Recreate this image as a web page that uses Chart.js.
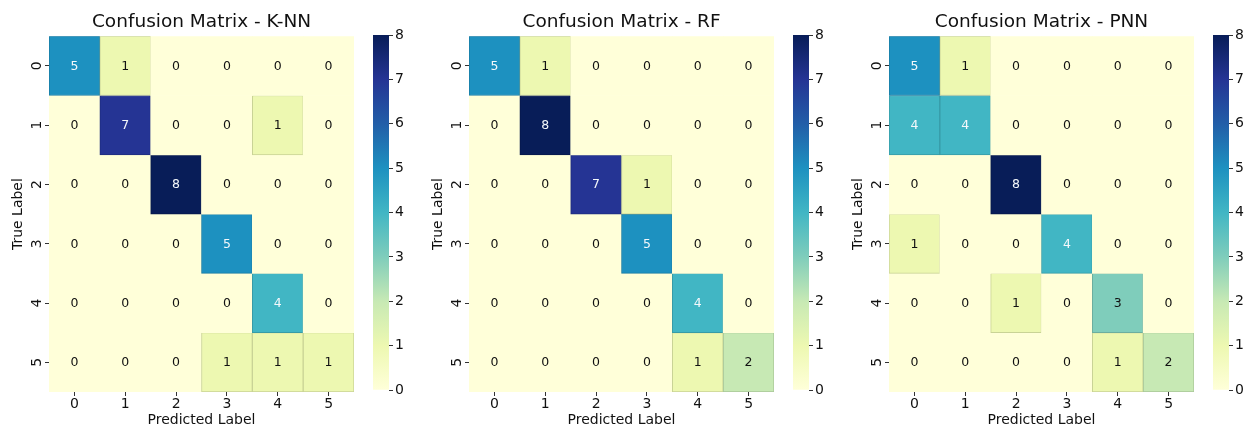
<!DOCTYPE html>
<html>
<head>
<meta charset="utf-8">
<script src="https://cdn.jsdelivr.net/npm/chart.js@4.4.1/dist/chart.umd.min.js"></script>
<style>
  html, body { margin: 0; padding: 0; background: #fff; }
  #wrap { position: relative; width: 1244px; height: 430px; overflow: hidden; }
  canvas { position: absolute; top: 0; }
</style>
</head>
<body>
<div id="wrap">
  <canvas id="hm0" width="356" height="430" style="left:0px"></canvas>
  <canvas id="cb0" width="60" height="430" style="left:360px"></canvas>
  <canvas id="hm1" width="356" height="430" style="left:420px"></canvas>
  <canvas id="cb1" width="60" height="430" style="left:780px"></canvas>
  <canvas id="hm2" width="356" height="430" style="left:840px"></canvas>
  <canvas id="cb2" width="60" height="430" style="left:1200px"></canvas>
</div>
<script>
// etiquetas de las clases
const predLabels = ['0', '1', '2', '3', '4', '5'];
const trueLabels = ['0', '1', '2', '3', '4', '5'];

// matrices de confusión (filas = etiqueta real)
const knnMatrix = [
  [5, 1, 0, 0, 0, 0],
  [0, 7, 0, 0, 1, 0],
  [0, 0, 8, 0, 0, 0],
  [0, 0, 0, 5, 0, 0],
  [0, 0, 0, 0, 4, 0],
  [0, 0, 0, 1, 1, 1]
];
const rfMatrix = [
  [5, 1, 0, 0, 0, 0],
  [0, 8, 0, 0, 0, 0],
  [0, 0, 7, 1, 0, 0],
  [0, 0, 0, 5, 0, 0],
  [0, 0, 0, 0, 4, 0],
  [0, 0, 0, 0, 1, 2]
];
const pnnMatrix = [
  [5, 1, 0, 0, 0, 0],
  [4, 4, 0, 0, 0, 0],
  [0, 0, 8, 0, 0, 0],
  [1, 0, 0, 4, 0, 0],
  [0, 0, 1, 0, 3, 0],
  [0, 0, 0, 0, 1, 2]
];
const titles = ['Confusion Matrix - K-NN', 'Confusion Matrix - RF', 'Confusion Matrix - PNN'];
const cbarTicks = [0, 1, 2, 3, 4, 5, 6, 7, 8];

const FONT = "'DejaVu Sans', sans-serif";
const TXT = '#111';

// paleta YlGnBu
const ylgnbu = ['#ffffd9', '#edf8b1', '#c7e9b4', '#7fcdbb', '#41b6c4', '#1d91c0', '#225ea8', '#253494', '#081d58'];

const hexRgb = (h) => [parseInt(h.slice(1, 3), 16), parseInt(h.slice(3, 5), 16), parseInt(h.slice(5, 7), 16)];

const cmap = (t, dark) => {
  t = Math.max(0, Math.min(1, t));
  const p = t * (ylgnbu.length - 1);
  const i = Math.min(Math.floor(p), ylgnbu.length - 2);
  const f = p - i;
  const a = hexRgb(ylgnbu[i]), b = hexRgb(ylgnbu[i + 1]);
  const k = dark || 1;
  const c = a.map((v, j) => Math.round((v + (b[j] - v) * f) * k));
  return `rgb(${c[0]}, ${c[1]}, ${c[2]})`;
};

const vmax = Math.max(...[knnMatrix, rfMatrix, pnnMatrix].flat(2));

const tickGrid = { drawOnChartArea: false, drawTicks: true, tickLength: 4, color: '#333' };

// se crea el mapa de calor con barras flotantes (una por celda)
const heatmap = (id, title, matrix) => {
  const datasets = matrix.map((row, r) => ({
    data: row.map(() => [r - 0.5, r + 0.5]),
    backgroundColor: row.map((v) => cmap(v / vmax)),
    borderColor: row.map((v) => v > 0 ? cmap(v / vmax, 0.85) : cmap(v / vmax)),
    borderWidth: row.map((v) => v > 0 ? 1 : 0),
    borderSkipped: false,
    barPercentage: 1,
    categoryPercentage: 1,
  }));

  const cellText = {
    id: 'cellText',
    afterDatasetsDraw(chart) {
      const { ctx, scales: { x, y } } = chart;
      ctx.save();
      ctx.font = `12.5px ${FONT}`;
      ctx.textAlign = 'center';
      ctx.textBaseline = 'middle';
      matrix.forEach((row, r) => {
        row.forEach((v, c) => {
          ctx.fillStyle = v / vmax >= 0.5 ? '#f4f8fb' : TXT;
          ctx.fillText(String(v), x.getPixelForValue(c), y.getPixelForValue(r) + 0.5);
        });
      });
      ctx.restore();
    }
  };

  new Chart(document.getElementById(id), {
    type: 'bar',
    data: { labels: predLabels, datasets },
    plugins: [cellText],
    options: {
      responsive: false,
      animation: false,
      layout: { padding: { right: 2 } },
      plugins: {
        legend: { display: false },
        tooltip: { enabled: false },
        title: {
          display: true,
          text: title,
          fullSize: false,
          color: TXT,
          font: { family: FONT, size: 18.5, weight: 'normal' },
          padding: { top: 11, bottom: 3 },
        },
      },
      scales: {
        x: {
          type: 'category',
          stacked: true,
          offset: true,
          grid: { ...tickGrid, offset: false },
          border: { display: false },
          ticks: { color: TXT, font: { family: FONT, size: 14 }, padding: 0 },
          title: {
            display: true, text: 'Predicted Label', color: TXT,
            font: { family: FONT, size: 14 }, padding: { top: 0, bottom: 1 },
          },
          afterFit: (s) => { s.height = 38; },
        },
        y: {
          type: 'linear',
          min: -0.5,
          max: trueLabels.length - 0.5,
          reverse: true,
          stacked: false,
          afterBuildTicks: (s) => { s.ticks = trueLabels.map((_, i) => ({ value: i })); },
          grid: tickGrid,
          border: { display: false },
          ticks: {
            callback: (v) => trueLabels[v],
            color: TXT,
            font: { family: FONT, size: 14 },
            minRotation: 90,
            maxRotation: 90,
            crossAlign: 'center',
            padding: 3,
          },
          title: {
            display: true, text: 'True Label', color: TXT,
            font: { family: FONT, size: 14 }, padding: { top: 10, bottom: 0 },
          },
          afterFit: (s) => { s.width = 49; },
        },
      },
    },
  });
};

// barra de colores al lado de cada matriz
const colorbar = (id) => {
  new Chart(document.getElementById(id), {
    type: 'bar',
    data: {
      labels: [''],
      datasets: [{
        data: [[cbarTicks[0], cbarTicks[cbarTicks.length - 1]]],
        backgroundColor: (c) => {
          const area = c.chart.chartArea;
          if (!area) return ylgnbu[0];
          const g = c.chart.ctx.createLinearGradient(0, area.bottom, 0, area.top);
          ylgnbu.forEach((col, i) => g.addColorStop(i / (ylgnbu.length - 1), col));
          return g;
        },
        borderWidth: 0,
        barPercentage: 1,
        categoryPercentage: 1,
      }],
    },
    options: {
      responsive: false,
      animation: false,
      layout: { padding: { left: 13, top: 35, bottom: 40 } },
      plugins: { legend: { display: false }, tooltip: { enabled: false } },
      scales: {
        x: { display: false },
        y: {
          position: 'right',
          min: cbarTicks[0],
          max: cbarTicks[cbarTicks.length - 1],
          afterBuildTicks: (s) => { s.ticks = cbarTicks.map((v) => ({ value: v })); },
          grid: tickGrid,
          border: { display: false },
          ticks: { color: TXT, font: { family: FONT, size: 14 }, padding: 2 },
          afterFit: (s) => { s.width = 31; },
        },
      },
    },
  });
};

heatmap('hm0', titles[0], knnMatrix);
heatmap('hm1', titles[1], rfMatrix);
heatmap('hm2', titles[2], pnnMatrix);
colorbar('cb0');
colorbar('cb1');
colorbar('cb2');
</script>
</body>
</html>
